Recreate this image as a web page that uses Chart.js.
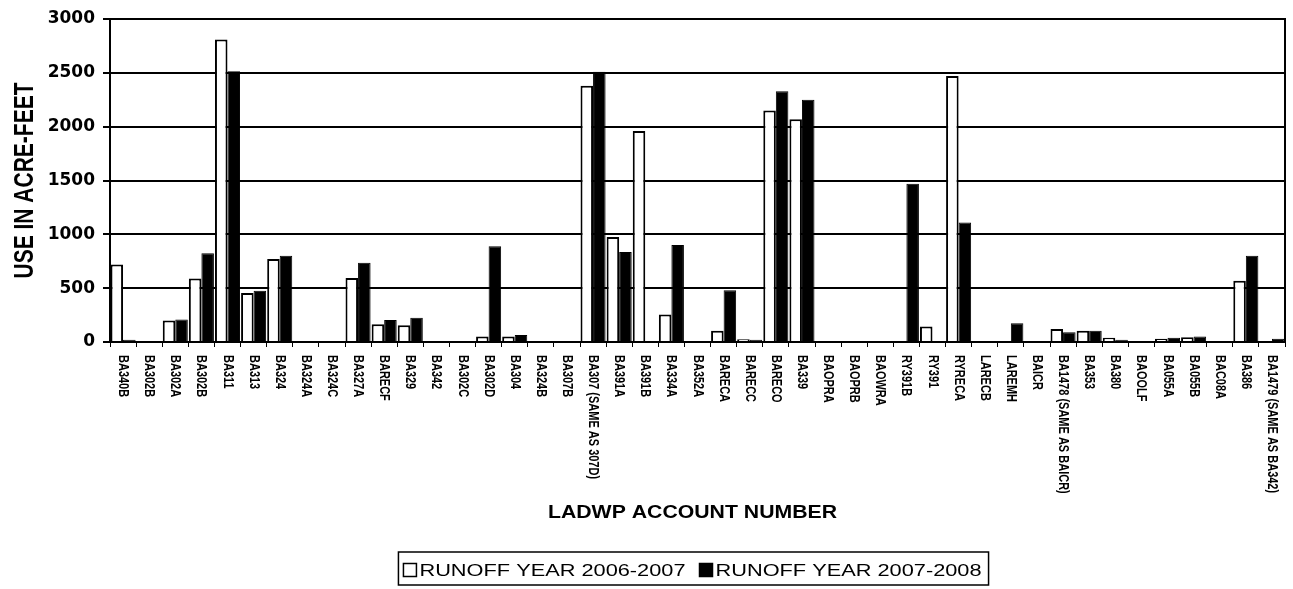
<!DOCTYPE html>
<html>
<head>
<meta charset="utf-8">
<script src="https://cdn.jsdelivr.net/npm/chart.js@4.4.1/dist/chart.umd.min.js"></script>
<style>
  html, body { margin: 0; padding: 0; background: #ffffff; }
  #wrap { width: 1293px; height: 589px; }
</style>
</head>
<body>
<div id="wrap"><canvas id="c" width="1293" height="589"></canvas></div>
<script>
const categories = ["BA340B","BA302B","BA302A","BA302B","BA311","BA313","BA324","BA324A","BA324C","BA327A","BARECF","BA329","BA342","BA302C","BA302D","BA304","BA324B","BA307B","BA307 (SAME AS 307D)","BA391A","BA391B","BA334A","BA352A","BARECA","BARECC","BARECO","BA339","BAOPRA","BAOPRB","BAOWRA","RY391B","RY391","RYRECA","LARECB","LAREMH","BAICR","BA1478 (SAME AS BAICR)","BA353","BA380","BAOOLF","BA055A","BA055B","BAC08A","BA386","BA1479 (SAME AS BA342)"];
const runoff2006_2007 = [720,0,200,590,2810,455,770,0,0,595,165,155,0,0,50,50,0,0,2380,975,1960,255,0,105,25,2150,2070,0,0,0,0,145,2470,0,0,0,120,105,40,0,30,45,0,570,0];
const runoff2007_2008 = [20,0,210,825,2515,475,800,0,0,735,205,225,0,0,890,65,0,0,2510,835,0,900,0,480,20,2330,2250,0,0,0,1470,0,1110,0,175,0,90,105,20,0,40,50,0,800,30];
const seriesNames = ["RUNOFF YEAR 2006-2007", "RUNOFF YEAR 2007-2008"];
const yTicks = [0, 500, 1000, 1500, 2000, 2500, 3000];
const yTitle = "USE IN ACRE-FEET";
const xTitle = "LADWP ACCOUNT NUMBER";

const FONT = '"Liberation Sans", Arial, Helvetica, sans-serif';

const decor = {
  id: 'decor',
  afterDraw(chart) {
    const ctx = chart.ctx;
    const a = chart.chartArea;
    const x = chart.scales.x;
    ctx.save();
    // plot frame
    ctx.strokeStyle = '#000';
    ctx.lineWidth = 2;
    ctx.strokeRect(a.left, a.top, a.right - a.left, a.bottom - a.top);

    ctx.fillStyle = '#000';

    // y axis title (reads bottom to top)
    ctx.save();
    ctx.translate(25, (a.top + a.bottom) / 2);
    ctx.scale(1.3, 1);
    ctx.rotate(-Math.PI / 2);
    ctx.font = 'bold 21px ' + FONT;
    ctx.textAlign = 'center';
    ctx.textBaseline = 'middle';
    ctx.fillText(yTitle, 0, 0);
    ctx.restore();

    // category labels, rotated clockwise (read top to bottom)
    ctx.font = 'bold 11px ' + FONT;
    ctx.textAlign = 'left';
    ctx.textBaseline = 'middle';
    chart.data.labels.forEach((lab, i) => {
      const px = x.getPixelForValue(i);
      ctx.save();
      ctx.translate(px, a.bottom + 13);
      ctx.scale(1.3, 1);
      ctx.rotate(Math.PI / 2);
      ctx.fillText(lab, 0, 0);
      ctx.restore();
    });

    // x axis title
    const cx = (a.left + a.right) / 2 - 5;
    ctx.save();
    ctx.translate(cx, 513);
    ctx.scale(1.18, 1);
    ctx.font = 'bold 18px ' + FONT;
    ctx.textAlign = 'center';
    ctx.textBaseline = 'middle';
    ctx.fillText(xTitle, 0, 0);
    ctx.restore();

    // legend
    const sx = 1.28;
    ctx.font = '17px ' + FONT;
    const ds = chart.data.datasets;
    const widths = ds.map(d => ctx.measureText(d.label).width * sx);
    const sq = 13, g1 = 3, g2 = 14;
    const total = sq + g1 + widths[0] + g2 + sq + g1 + widths[1];
    let lx = cx - total / 2;
    const ly = 570;
    ctx.lineWidth = 1.5;
    ctx.strokeStyle = '#000';
    ctx.strokeRect(lx - 5, 552, total + 12, 33);
    ds.forEach((d, i) => {
      ctx.fillStyle = d.backgroundColor;
      ctx.fillRect(lx, ly - sq / 2, sq, sq);
      ctx.strokeStyle = '#000';
      ctx.lineWidth = 1.5;
      ctx.strokeRect(lx, ly - sq / 2, sq, sq);
      lx += sq + g1;
      ctx.save();
      ctx.translate(lx, ly);
      ctx.scale(sx, 1);
      ctx.fillStyle = '#000';
      ctx.textAlign = 'left';
      ctx.textBaseline = 'middle';
      ctx.fillText(d.label, 0, 1);
      ctx.restore();
      lx += widths[i] + g2;
    });
    ctx.restore();
  }
};

new Chart(document.getElementById('c'), {
  type: 'bar',
  data: {
    labels: categories,
    datasets: [
      {
        label: seriesNames[0],
        data: runoff2006_2007,
        backgroundColor: '#ffffff',
        borderColor: '#000000',
        borderWidth: 2,
        categoryPercentage: 0.96,
        barPercentage: 1.0
      },
      {
        label: seriesNames[1],
        data: runoff2007_2008,
        backgroundColor: '#000000',
        borderColor: '#000000',
        borderWidth: 1,
        categoryPercentage: 0.96,
        barPercentage: 1.0
      }
    ]
  },
  options: {
    responsive: false,
    animation: false,
    devicePixelRatio: 1,
    events: [],
    layout: { padding: { top: 19, right: 8, left: 0, bottom: 0 } },
    plugins: {
      legend: { display: false },
      tooltip: { enabled: false },
      title: { display: false }
    },
    scales: {
      x: {
        offset: true,
        ticks: { display: false },
        grid: { display: true, drawOnChartArea: false, drawTicks: true, tickLength: 5, color: '#000', lineWidth: 1 },
        border: { display: true, color: '#000', width: 2 },
        afterFit(s) { s.height = 247; }
      },
      y: {
        min: 0,
        max: 3000,
        afterBuildTicks(s) { s.ticks = yTicks.map(v => ({ value: v })); },
        ticks: {
          color: '#000',
          padding: 8,
          font: { family: '"DejaVu Sans", sans-serif', size: 17, weight: 'bold' },
          callback: (v) => String(v)
        },
        grid: { color: '#000', lineWidth: 2, tickLength: 7, drawTicks: true },
        border: { display: true, color: '#000', width: 2 },
        title: { display: false },
        afterFit(s) { s.width = 110; }
      }
    }
  },
  plugins: [decor]
});
</script>
</body>
</html>
